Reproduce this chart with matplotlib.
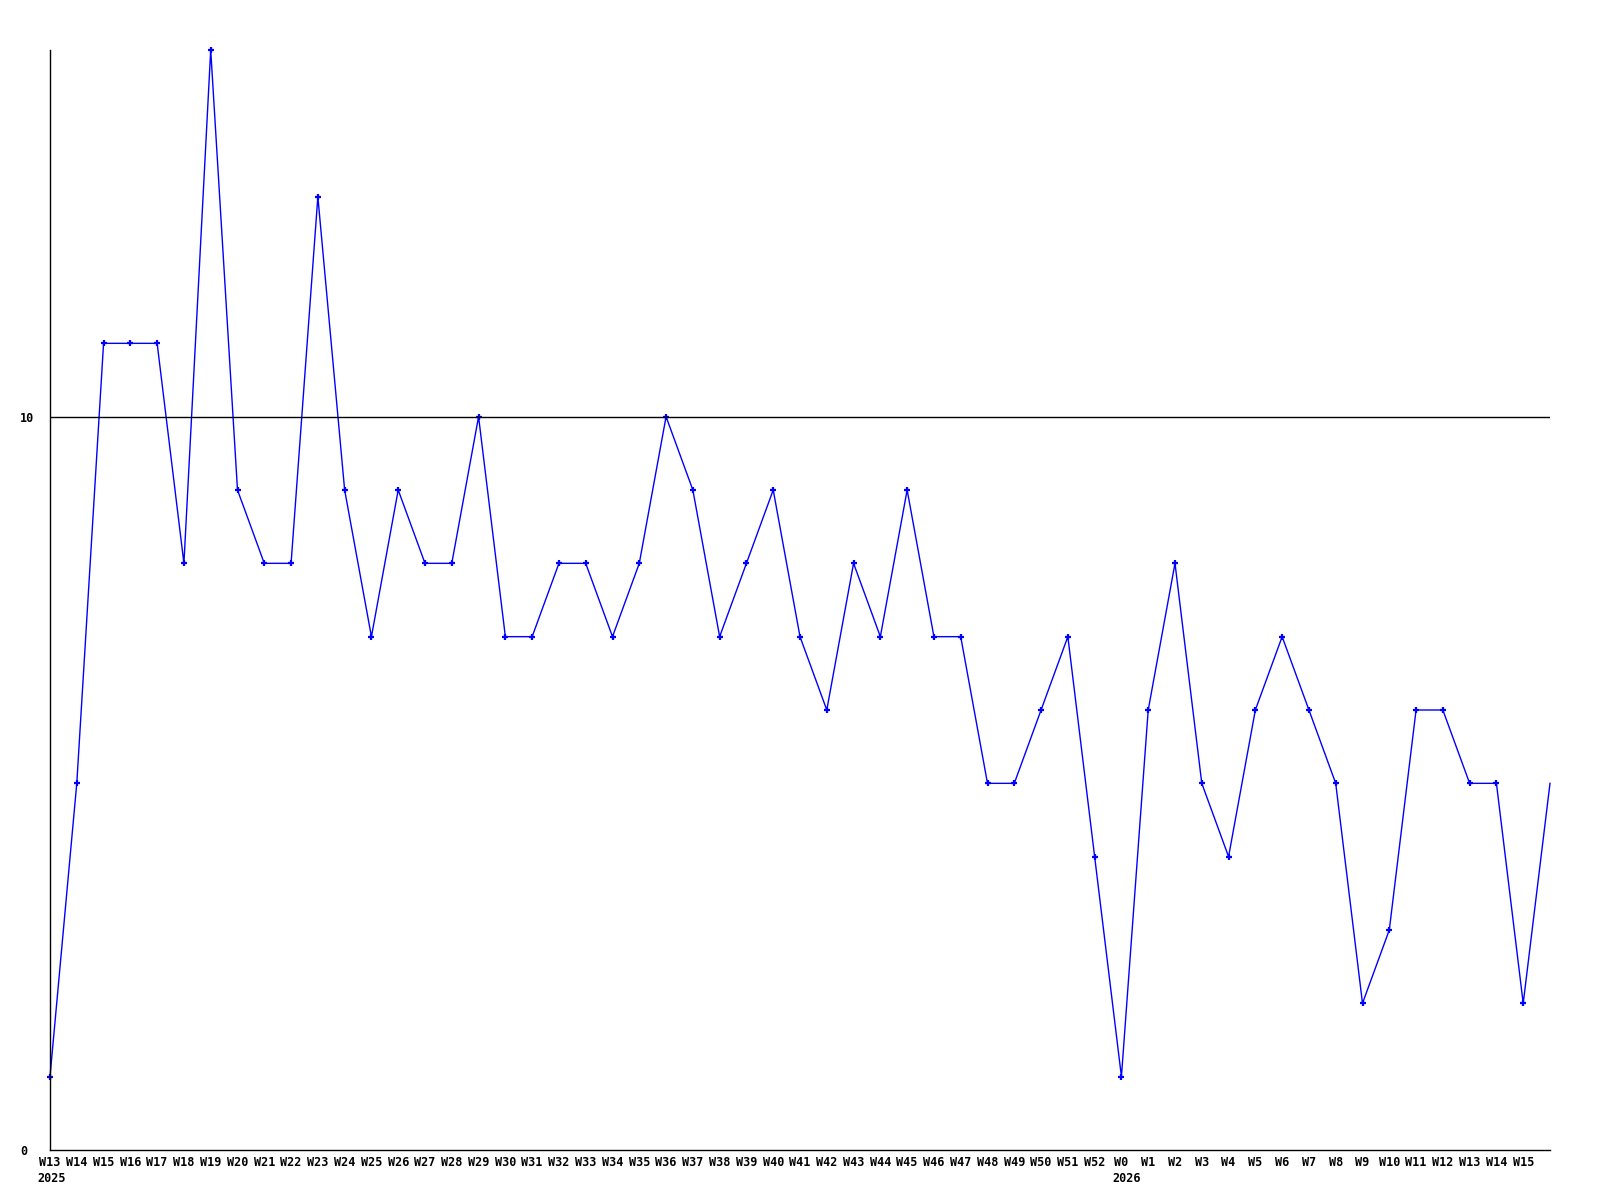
import matplotlib
matplotlib.use("Agg")
import matplotlib.pyplot as plt
import matplotlib.transforms as mtransforms

weeks = ["W13", "W14", "W15", "W16", "W17", "W18", "W19", "W20", "W21", "W22",
         "W23", "W24", "W25", "W26", "W27", "W28", "W29", "W30", "W31", "W32",
         "W33", "W34", "W35", "W36", "W37", "W38", "W39", "W40", "W41", "W42",
         "W43", "W44", "W45", "W46", "W47", "W48", "W49", "W50", "W51", "W52",
         "W0", "W1", "W2", "W3", "W4", "W5", "W6", "W7", "W8", "W9",
         "W10", "W11", "W12", "W13", "W14", "W15", ""]
years = {0: "2025", 40: "2026"}
values = [1, 5, 11, 11, 11, 8, 15, 9, 8, 8,
          13, 9, 7, 9, 8, 8, 10, 7, 7, 8,
          8, 7, 8, 10, 9, 7, 8, 9, 7, 6,
          8, 7, 9, 7, 7, 5, 5, 6, 7, 4,
          1, 6, 8, 5, 4, 6, 7, 6, 5, 2,
          3, 6, 6, 5, 5, 2, 5]
ytick_vals = [0, 10]

fs = 8.5
font = dict(family="DejaVu Sans Mono", weight="bold", size=fs)

fig = plt.figure(figsize=(16, 12), dpi=100)
ax = fig.add_axes([50/1600, 1 - 1150/1200, 1500/1600, 1100/1200])

x = list(range(len(values)))
ax.plot(x, values, color="#0000ff", lw=1.0, marker="+", ms=5, mew=1.6,
        mec="#0000ff", markevery=list(range(len(values) - 1)), clip_on=False)
ax.axhline(10, color="black", lw=1.0)

ax.set_xlim(0, len(values) - 1)
ax.set_ylim(0, 15)
for s in ["top", "right"]:
    ax.spines[s].set_visible(False)
for s in ["left", "bottom"]:
    ax.spines[s].set_linewidth(1.0)
    ax.spines[s].set_color("black")

ax.set_yticks(ytick_vals)
ax.set_yticklabels([str(v) for v in ytick_vals], ha="left", **font)
ax.tick_params(axis="y", length=0, pad=21.6)

nlab = len(weeks) - 1
ax.set_xticks(range(nlab))
ax.set_xticklabels(weeks[:nlab], **font)
ax.tick_params(axis="x", length=0, pad=4)

char_w = 0.602 * fs  # points
for i, yr in years.items():
    off = -len(weeks[i]) * char_w / 2 - 1.5
    tr = mtransforms.offset_copy(ax.get_xaxis_transform(), fig=fig, x=off, y=-15.5, units="points")
    ax.text(i, 0, yr, transform=tr, ha="left", va="top", **font)

fig.savefig("out.png", dpi=100)
